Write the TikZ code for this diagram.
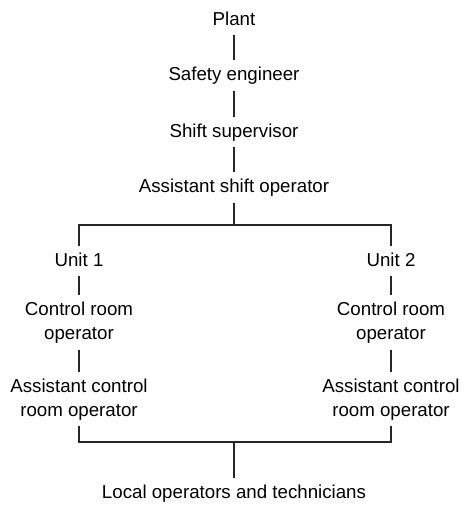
\documentclass[tikz,border=0pt]{standalone}
\usepackage{fontspec}
\setmainfont{Liberation Sans}
\usetikzlibrary{positioning}

\begin{document}
\begin{tikzpicture}[x=1pt, y=-1pt,
  role/.style={font=\fontsize{18.7pt}{24pt}\selectfont, align=center,
               inner sep=0pt, outer ysep=7pt, text depth=3pt},
  link/.style={line width=2pt, color=black!85}]
\useasboundingbox (0,0) rectangle (463,505);
\node[role] (plant) at (234,19.8) {Plant};
\node[role, below=25pt of plant] (safety) {Safety engineer};
\node[role, below=26pt of safety] (shift) {Shift supervisor};
\node[role, below=25pt of shift] (aso) {Assistant shift operator};
\coordinate (split) at (234,225);
\node[role] (unitA) at (79,260.8) {Unit 1};
\node[role] (unitB) at (391,260.8) {Unit 2};
\node[role, below=19pt of unitA] (crA) {Control room\\operator};
\node[role, below=19pt of unitB] (crB) {Control room\\operator};
\node[role, below=22pt of crA] (acrA) {Assistant control\\room operator};
\node[role, below=22pt of crB] (acrB) {Assistant control\\room operator};
\coordinate (merge) at (234,442);
\node[role] (local) at (234,492.8) {Local operators and technicians};
\draw[link] (plant) -- (safety);
\draw[link] (safety) -- (shift);
\draw[link] (shift) -- (aso);
\draw[link] (aso) -- (split);
\draw[link] (unitA) |- (split) -| (unitB);
\draw[link] (unitA) -- (crA);
\draw[link] (unitB) -- (crB);
\draw[link] (crA) -- (acrA);
\draw[link] (crB) -- (acrB);
\draw[link] (acrA) |- (merge) -| (acrB);
\draw[link] (merge) -- (local);
\end{tikzpicture}
\end{document}
